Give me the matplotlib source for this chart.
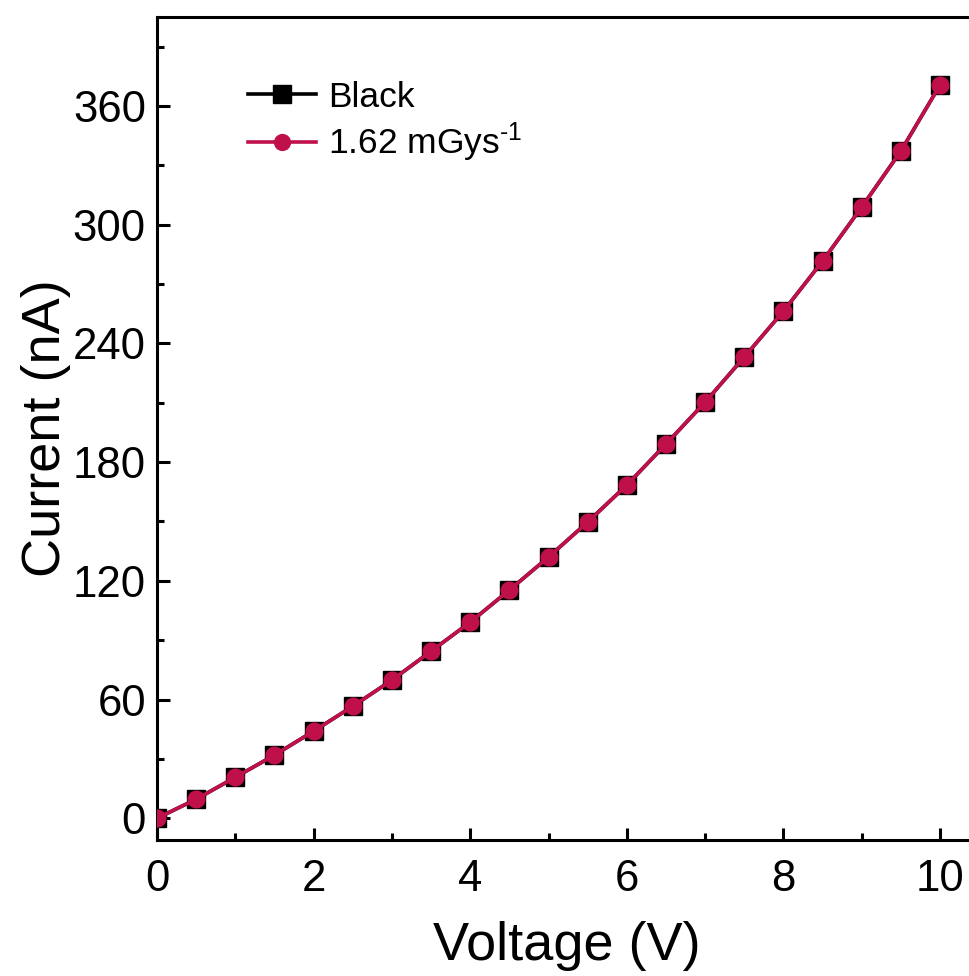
import matplotlib
matplotlib.use("Agg")
import matplotlib.pyplot as plt
from matplotlib.ticker import MultipleLocator

plt.rcParams['font.family'] = ['Liberation Sans', 'DejaVu Sans']
plt.rcParams['mathtext.fontset'] = 'custom'
plt.rcParams['mathtext.rm'] = 'Liberation Sans'
plt.rcParams['mathtext.it'] = 'Liberation Sans'

voltage = [0, 0.5, 1, 1.5, 2, 2.5, 3, 3.5, 4, 4.5, 5, 5.5, 6, 6.5, 7, 7.5, 8, 8.5, 9, 9.5, 10]
current_black = [0, 9.6, 20.7, 31.9, 44.0, 56.6, 69.8, 84.4, 99.1, 115.3, 132.0, 149.7,
                 168.4, 189.1, 210.3, 233.1, 256.3, 281.6, 308.9, 337.2, 370.6]
current_dose = [0, 9.6, 20.7, 31.9, 44.0, 56.6, 69.8, 84.4, 99.1, 115.3, 132.0, 149.7,
                168.4, 189.1, 210.3, 233.1, 256.3, 281.6, 308.9, 337.2, 370.6]

RED = '#c0104a'

fig = plt.figure(figsize=(9.69, 9.76), dpi=100)
# x scale ~78.3 px per volt; the right end of the frame runs past the figure edge
ax = fig.add_axes([157 / 969, 1 - 840 / 976, 840 / 969, (840 - 17) / 976])

ax.plot(voltage, current_black, color='black', lw=2.6, marker='s', ms=13.5,
        mfc='black', mec='black', label='Black', zorder=3)
ax.plot(voltage, current_dose, color=RED, lw=2.6, marker='o', ms=12,
        mfc=RED, mec=RED, label='1.62 mGys$^{\\text{-1}}$', zorder=4)

ax.set_xlim(0, 840 / 78.3)
ax.set_ylim(-11, 405)
ax.xaxis.set_major_locator(MultipleLocator(2))
ax.xaxis.set_minor_locator(MultipleLocator(1))
ax.yaxis.set_major_locator(MultipleLocator(60))
ax.yaxis.set_minor_locator(MultipleLocator(30))
ax.tick_params(which='both', direction='in', width=2.2, labelsize=31.5,
               top=False, right=False)
ax.tick_params(axis='x', which='major', length=9, pad=14)
ax.tick_params(axis='y', which='major', length=9, pad=8)
ax.tick_params(which='minor', length=5)
for s in ax.spines.values():
    s.set_linewidth(2.2)
ax.spines['right'].set_visible(False)

ax.set_xlabel('Voltage (V)', fontsize=39)
ax.set_ylabel('Current (nA)', fontsize=39, labelpad=1)
ax.xaxis.set_label_coords((567 - 157) / 840, -0.098)

leg = ax.legend(loc='upper left', bbox_to_anchor=(0.092, 0.94), frameon=False,
                fontsize=25.5, handlelength=1.9, handletextpad=0.35, labelspacing=0.2,
                borderaxespad=0, markerscale=0.95)

fig.savefig('out.png', dpi=100)
